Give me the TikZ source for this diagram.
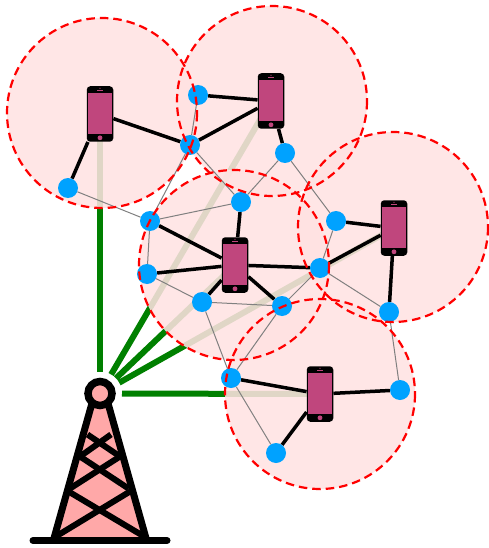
\documentclass[tikz,border=0pt]{standalone}
\definecolor{cellpink}{RGB}{255,226,226}
\definecolor{radio}{RGB}{0,128,0}
\definecolor{devblue}{RGB}{0,162,255}
\definecolor{screenpink}{RGB}{192,70,125}
\definecolor{towerpink}{RGB}{255,168,168}
\pgfdeclarelayer{linklayer}
\pgfdeclarelayer{cellfill}
\pgfdeclarelayer{radiolayer}
\pgfdeclarelayer{toplayer}
\pgfsetlayers{radiolayer,cellfill,linklayer,main,toplayer}
\tikzset{
  x=1pt,y=-1pt,
  cell/.style={fill=cellpink,fill opacity=0.88},
  cellborder/.style={draw=red,line width=2.2pt,dash pattern=on 8.5pt off 5pt},
  device/.style={circle,fill=devblue,minimum size=20pt,inner sep=0pt},
  phonebody/.style={rectangle,rounded corners=3.5pt,fill=black,minimum width=26.5pt,minimum height=55.5pt,inner sep=0pt},
  phonescreen/.style={fill=screenpink},
  strong/.style={draw=black,line width=3.5pt},
  weak/.style={draw=black!50,line width=1pt},
  uplink/.style={draw=radio,line width=6pt,shorten <=22pt},
  towerline/.style={draw=black,line width=6pt},
  towerleg/.style={draw=black,line width=7pt},
}
\begin{document}
\begin{tikzpicture}
\useasboundingbox (0,0) rectangle (489,548);
% centres of the coverage cells
\foreach \n/\x/\y in {c1/102/113,c2/272/101,c3/234/265,c4/393/227,c5/320/394}
  \coordinate (\n) at (\x,\y);
% phones
\foreach \n/\x/\y in {p1/100/114,p2/271/101,p3/235/265,p4/394/228,p5/320/394}{
  \node[phonebody] (\n) at (\x,\y) {};
  \fill[phonescreen] (\x-11.7,\y-20.8) rectangle (\x+11.7,\y+20.2);
  \fill[screenpink] (\x,\y+23.8) circle (2.4);
  \fill[screenpink] (\x-2.6,\y-24) rectangle (\x+2.6,\y-22.6);
  \fill[screenpink] (\x,\y-25.7) circle (0.6);
}
% devices
\foreach \n/\x/\y in {a/68/188,b/198/95,c/190/145,d/285/153,e/150/221,f/241/202,g/147/274,h/202/302,i/282/306,j/320/268,k/336/221,l/389/312,m/231/378,n/400/390,o/276/453}
  \node[device] (\n) at (\x,\y) {};
% tower body
\fill[towerpink] (92,403) -- (108,403) -- (147,540) -- (53,540) -- cycle;
\draw[towerleg] (91.5,405) -- (53.5,540);
\draw[towerleg] (108.5,405) -- (146.5,540);
\draw[towerline] (55,537) -- (130,491.5);
\draw[towerline] (145,537) -- (68.5,491.5);
\draw[towerline] (70,488.5) -- (120,456.5);
\draw[towerline] (128.5,488.5) -- (80,456.5);
\draw[towerline] (80,456.5) -- (111,434.5);
\draw[towerline] (120,456.5) -- (87.5,434.5);
\draw[draw=black,line width=7pt,line cap=round] (33,540.5) -- (167,540.5);
% tower top
\node[circle,draw=black,line width=7.5pt,fill=towerpink,minimum size=24pt,inner sep=0pt] (t) at (100,393.5) {};
\begin{pgfonlayer}{radiolayer}
  \foreach \p in {p1,p2,p3,p4,p5}
    \draw[uplink] (t.center) -- (\p.center);
\end{pgfonlayer}
\begin{pgfonlayer}{cellfill}
  \foreach \n in {c1,c2,c3,c4,c5}
    \fill[cell] (\n) circle (95);
\end{pgfonlayer}
\begin{pgfonlayer}{linklayer}
  \foreach \u/\v in {a/e,b/c,c/f,c/e,f/d,e/f,e/g,g/h,h/i,h/m,i/m,i/j,j/k,j/l,k/d,l/n,m/o}
    \draw[weak] (\u) -- (\v);
  \foreach \u/\v in {p1/c,p1/a,p2/b,p2/c,p2/d,p3/e,p3/f,p3/g,p3/h,p3/i,p3/j,p4/k,p4/j,p4/l,p5/m,p5/n,p5/o}
    \draw[strong] (\u) -- (\v);
\end{pgfonlayer}
\begin{pgfonlayer}{toplayer}
  \foreach \n in {c1,c2,c3,c4,c5}
    \draw[cellborder] (\n) circle (95);
\end{pgfonlayer}
\end{tikzpicture}
\end{document}
